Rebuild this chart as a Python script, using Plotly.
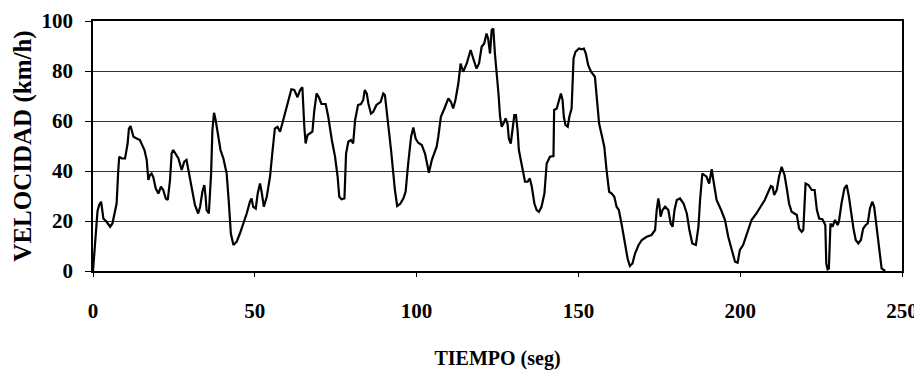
import plotly.graph_objects as go

tiempo = [0, 0.8, 1.4, 1.9, 2.5, 2.9, 3.2, 4.2, 5.3, 6.0, 6.6, 7.3, 7.8, 8.1, 8.9, 9.9, 10.7, 11.1, 11.6, 12.5,
          13.5, 14.5, 15.9, 16.6, 17.1, 17.6, 18.1, 18.6, 19.4, 20.2, 21.0, 21.7, 22.5, 23.1, 23.8, 24.3, 24.8,
          25.5, 26.4, 27.4, 28.2, 28.9, 29.7, 30.5, 31.5, 32.5, 33.1, 33.8, 34.4, 34.8, 35.1, 35.8, 36.5, 36.9,
          37.4, 37.9, 38.7, 39.4, 40.3, 41.3, 42.0, 42.6, 43.4, 44.4, 45.4, 46.5, 47.5, 48.5, 49.0, 49.5, 50.3,
          50.9, 51.6, 52.1, 52.8, 53.7, 54.7, 55.4, 56.2, 57.0, 57.8, 58.5, 59.3, 60.4, 61.3, 62.2, 63.2, 64.0,
          64.7, 65.3, 65.7, 66.3, 67.1, 67.8, 68.4, 69.1, 69.8, 70.6, 71.9, 72.7, 73.8, 74.8, 75.6, 76.1, 76.8,
          77.7, 78.2, 78.9, 79.7, 80.4, 81.0, 81.9, 82.8, 83.5, 84.0, 84.6, 85.1, 85.9, 86.6, 87.6, 88.9, 89.7,
          90.2, 90.8, 91.3, 92.1, 92.8, 93.3, 94.0, 94.9, 95.9, 96.6, 97.4, 98.3, 99.0, 99.7, 100.5, 101.6, 102.6,
          103.4, 103.8, 104.7, 106.2, 106.7, 107.5, 108.6, 109.8, 110.6, 111.3, 112.0, 112.9, 113.6, 114.4, 115.5,
          116.2, 116.7, 117.5, 118.5, 119.3, 120.1, 120.9, 121.6, 122.1, 122.7, 123.2, 123.7, 124.2, 124.7, 125.3,
          125.8, 126.3, 127.1, 127.5, 128.1, 128.5, 129.1, 129.6, 130.2, 130.7, 131.2, 131.6, 132.5, 133.0, 133.5,
          134.3, 135.0, 135.6, 136.4, 137.1, 137.8, 138.6, 139.5, 140.2, 141.2, 142.3, 142.5, 143.3, 144.0, 144.6,
          145.1, 145.5, 146.0, 146.7, 147.2, 147.9, 148.5, 149.1, 150.2, 151.0, 151.7, 152.3, 153.0, 153.9, 155.1,
          155.6, 156.4, 157.2, 158.0, 158.7, 159.5, 160.3, 161.1, 161.8, 162.5, 163.4, 164.4, 165.2, 165.9, 166.7,
          167.5, 168.6, 169.6, 171.1, 172.6, 173.7, 174.2, 174.7, 175.0, 175.4, 176.0, 176.8, 177.8, 178.5, 179.1,
          179.7, 180.4, 181.4, 182.5, 183.5, 184.3, 185.2, 186.3, 187.1, 187.6, 188.3, 188.9, 189.6, 190.4, 191.2,
          191.7, 192.7, 194.1, 195.3, 196.3, 197.4, 198.4, 199.2, 199.9, 200.9, 202.0, 203.5, 205.0, 206.4, 207.6,
          208.7, 209.5, 210.0, 210.5, 211.3, 212.0, 212.8, 213.7, 214.4, 215.1, 215.9, 216.7, 217.5, 218.2, 219.0,
          219.5, 220.2, 221.1, 222.1, 223.0, 223.7, 224.4, 225.4, 226.3, 226.6, 227.0, 227.4, 227.9, 228.5, 229.3,
          230.1, 230.5, 231.3, 232.2, 232.9, 233.6, 234.3, 235.0, 235.7, 236.5, 237.3, 238.0, 238.8, 239.4, 240.1,
          240.8, 241.4, 242.2, 242.9, 243.7, 244.8]

velocidad = [0, 12, 24, 26.4, 27.7, 24, 21, 19.7, 17.7, 19, 23, 27, 40, 45.7, 45, 45, 51, 57, 58, 53.7,
             53, 52.4, 48.4, 44.4, 36.4, 38.4, 39, 37.7, 33, 31, 33.7, 32.4, 29, 28.4, 36.4, 47, 48.4,
             47, 45, 40.4, 43.7, 44.4, 39, 32.4, 26.4, 23, 25.7, 31.7, 34.4, 29.7, 24.4, 23, 39, 56.4,
             63.3, 60.4, 53.7, 48.4, 45, 39, 27, 15, 10.4, 11.7, 15, 19, 23, 27.7, 29, 25.7, 25,
             31, 35, 31.7, 25.7, 29.7, 37.7, 47, 57, 57.7, 55.7, 59, 63, 68.7, 72.7, 72.4, 69.5, 72.4,
             73.5, 57.7, 51, 54.4, 55, 55.7, 64.4, 71, 69.5, 66.8, 66.8, 61.7, 52.4, 45.7, 37.7, 29.7, 28.7,
             29, 47, 51.7, 52.4, 51, 60.4, 66.4, 66.8, 68.4, 72.4, 71, 67, 63, 63.7, 66.4, 67.7, 71,
             70.4, 64.4, 57.7, 48.4, 39, 32.4, 26, 26.8, 29, 31.7, 43, 53.7, 57.4, 53, 51.3, 50.4, 47,
             41.7, 39.3, 44.4, 49.7, 53.7, 61.7, 65, 69, 67.7, 65, 68.4, 75, 83, 79.7, 83,
             85.7, 88.4, 85, 81, 83, 89.7, 91, 95, 93, 87, 96.4, 97, 87, 80.4, 71,
             61.7, 57.7, 59.7, 61, 59, 53, 51, 56.4, 62.4, 62.4, 56.4, 48.4, 41.7, 39, 35.7,
             35.7, 37, 33.7, 27, 24.4, 23.7, 25.7, 31, 43, 45.7, 46, 64.4, 65, 68.4, 71,
             68.4, 61.7, 58.4, 57.7, 61.7, 65, 85, 87.7, 89, 88.7, 89, 87, 82.4, 79.7, 77.7,
             69.7, 59, 54.4, 49.7, 40.4, 31.7, 31, 29.7, 25.7, 24.4, 18.4, 11, 5, 2, 3,
             7, 10.4, 12.4, 13.7, 14.4, 16.4, 24.4, 29, 26.7, 21.7, 24.4, 25.7, 24.4, 19, 17.7,
             24.4, 28.4, 29, 27, 23, 16.4, 11, 10.4, 17.7, 28.4, 39, 38.4, 37.7, 35, 40.7,
             36.4, 28.4, 24.4, 20.4, 13.7, 8.4, 3.7, 3.3, 8.4, 10.4, 15, 20.4, 23, 25.7, 28.4,
             31.7, 34, 33.7, 30.4, 32.4, 37.7, 41.7, 38.4, 33, 27, 23.7, 23, 22.4, 17, 15.7,
             16.4, 35, 34.4, 32.4, 32.4, 24.4, 21, 20.7, 18.4, 3, 0.7, 1, 19, 17.7, 20.4,
             18.4, 19.7, 27, 33, 34.4, 29.7, 23, 17, 12.4, 11, 12.4, 17, 18.4, 19, 25,
             27.7, 25.7, 17.7, 8.4, 1, 0]

x_ticks = [0, 50, 100, 150, 200, 250]
y_ticks = [0, 20, 40, 60, 80, 100]

FONT = "Liberation Serif"

fig = go.Figure()
fig.add_trace(go.Scatter(
    x=tiempo, y=velocidad, mode="lines",
    line=dict(color="black", width=2.2),
    showlegend=False, hoverinfo="skip",
))

# page body has an 8px margin, so the figure is 8px smaller and margins shifted
fig.update_layout(
    width=914, height=362,
    margin=dict(l=85, r=20, t=13, b=99),
    paper_bgcolor="white", plot_bgcolor="white",
    font=dict(family=FONT, color="black"),
    xaxis=dict(
        range=[0, 250], tickvals=x_ticks, ticktext=[str(v) for v in x_ticks],
        showgrid=False, zeroline=False, automargin=False,
        showline=True, linecolor="black", linewidth=1.5, mirror=True,
        ticks="outside", ticklen=4, tickcolor="black", tickwidth=1,
        ticklabelstandoff=16,
        tickfont=dict(family=FONT, size=21, weight="bold", color="black"),
        title=dict(text="TIEMPO (seg)", standoff=32,
                   font=dict(family=FONT, size=20, weight="bold", color="black")),
    ),
    yaxis=dict(
        range=[0, 100], tickvals=y_ticks, ticktext=[str(v) for v in y_ticks],
        showgrid=True, gridcolor="#333333", gridwidth=1,
        zeroline=False, automargin=False,
        showline=True, linecolor="black", linewidth=1.5, mirror=True,
        ticks="outside", ticklen=6, tickcolor="black", tickwidth=1,
        ticklabelstandoff=8,
        tickfont=dict(family=FONT, size=21, weight="bold", color="black"),
        title=dict(text="VELOCIDAD (km/h)", standoff=3,
                   font=dict(family=FONT, size=25, weight="bold", color="black")),
    ),
)

fig.write_html("out.html")
